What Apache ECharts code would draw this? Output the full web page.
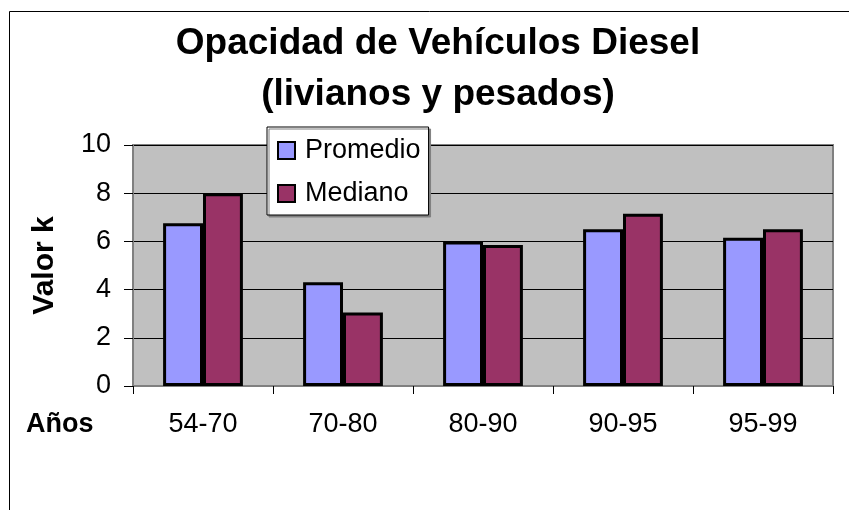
<!DOCTYPE html>
<html>
<head>
<meta charset="utf-8">
<script src="https://cdn.jsdelivr.net/npm/echarts@6/dist/echarts.min.js"></script>
<style>
html,body{margin:0;padding:0;background:#fff;}
#chart{width:849px;height:510px;}
</style>
</head>
<body>
<div id="chart"></div>
<script>
// ---- data ----
const categories = ['54-70', '70-80', '80-90', '90-95', '95-99'];
const seriesNames = ['Promedio', 'Mediano'];
const promedio = [6.75, 4.3, 6.0, 6.5, 6.15];
const mediano = [8.0, 3.05, 5.85, 7.15, 6.5];
const yTicks = [0, 2, 4, 6, 8, 10];
const titleText = 'Opacidad de Vehículos Diesel\n(livianos y pesados)';
const yAxisTitle = 'Valor k';
const xAxisTitle = 'Años';

const FONT = '"Liberation Sans", Arial, sans-serif';
const chart = echarts.init(document.getElementById('chart'), null, {renderer: 'canvas'});

chart.setOption({
  animation: false,
  backgroundColor: '#ffffff',
  textStyle: {fontFamily: FONT, color: '#000'},
  title: [{
    text: titleText,
    left: 438,
    top: 18,
    textAlign: 'center',
    padding: 0,
    textStyle: {fontFamily: FONT, fontSize: 37, fontWeight: 'bold', color: '#000', lineHeight: 51}
  }, {
    text: xAxisTitle,
    left: 26,
    top: 411,
    padding: 0,
    textStyle: {fontFamily: FONT, fontSize: 27, fontWeight: 'bold', color: '#000', lineHeight: 27}
  }],
  graphic: [{
    type: 'polyline',
    silent: true,
    shape: {points: [[9.5, 512], [9.5, 11.5], [851, 11.5]]},
    style: {stroke: '#000', lineWidth: 1, fill: null}
  }],
  legend: {
    data: seriesNames,
    orient: 'vertical',
    left: 267,
    top: 127,
    padding: [10, 8, 8, 10],
    itemWidth: 17,
    itemHeight: 17,
    itemGap: 16,
    icon: 'rect',
    backgroundColor: '#ffffff',
    borderColor: '#000',
    borderWidth: 1,
    shadowColor: '#808080',
    shadowOffsetX: 2,
    shadowOffsetY: 2,
    shadowBlur: 0,
    itemStyle: {borderColor: '#000', borderWidth: 2},
    textStyle: {fontFamily: FONT, fontSize: 27, color: '#000', padding: [0, 0, 0, 5]}
  },
  grid: {
    left: 133,
    right: 16,
    top: 145,
    bottom: 124,
    show: true,
    backgroundColor: '#C0C0C0',
    borderColor: '#808080',
    borderWidth: 2
  },
  xAxis: {
    type: 'category',
    data: categories,
    axisLine: {show: true, lineStyle: {color: '#808080', width: 2}},
    axisTick: {show: true, length: 8, lineStyle: {color: '#000', width: 1}},
    axisLabel: {fontFamily: FONT, fontSize: 27, color: '#000', margin: 25},
    splitLine: {show: false}
  },
  yAxis: {
    type: 'value',
    min: yTicks[0],
    max: yTicks[yTicks.length - 1],
    interval: yTicks[1] - yTicks[0],
    name: yAxisTitle,
    nameLocation: 'middle',
    nameRotate: 90,
    nameGap: 73,
    nameTextStyle: {fontFamily: FONT, fontSize: 30, fontWeight: 'bold', color: '#000'},
    axisLine: {show: true, lineStyle: {color: '#808080', width: 2}},
    axisTick: {show: true, length: 9, lineStyle: {color: '#000', width: 1}},
    axisLabel: {fontFamily: FONT, fontSize: 27, color: '#000', margin: 22},
    splitLine: {show: true, lineStyle: {color: '#000', width: 1}}
  },
  series: [{
    name: seriesNames[0],
    type: 'bar',
    data: promedio,
    barGap: '0%',
    barCategoryGap: '43%',
    itemStyle: {color: '#9999FF', borderColor: '#000', borderWidth: 3}
  }, {
    name: seriesNames[1],
    type: 'bar',
    data: mediano,
    barGap: '0%',
    barCategoryGap: '43%',
    itemStyle: {color: '#993366', borderColor: '#000', borderWidth: 3}
  }]
});
</script>
</body>
</html>
